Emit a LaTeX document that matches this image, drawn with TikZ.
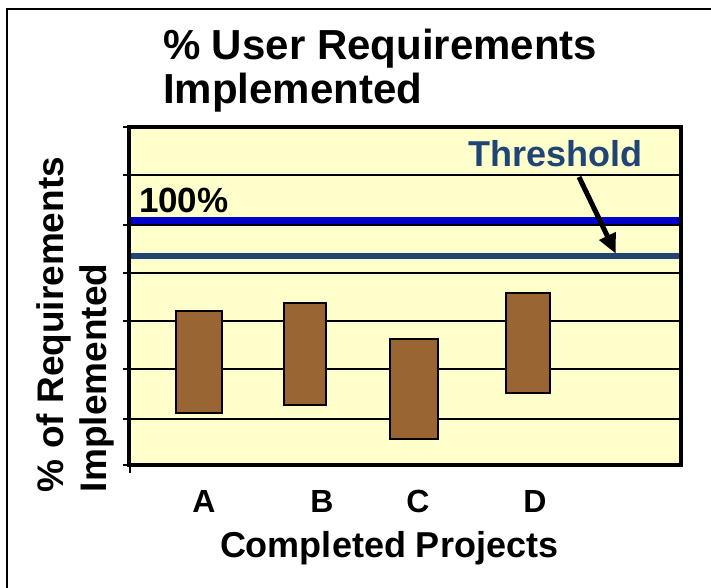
\documentclass[tikz,border=0pt]{standalone}
\usepackage{fontspec}
\setmainfont{Liberation Sans}
\usetikzlibrary{arrows.meta}
\definecolor{plotbg}{HTML}{FFFFCC}
\definecolor{barfill}{HTML}{996633}
\definecolor{hundblue}{HTML}{0000CC}
\definecolor{thrblue}{HTML}{1F4577}
\tikzset{
  txt/.style={inner sep=0pt, outer sep=0pt, font=\bfseries},
  grid line/.style={line width=1.6pt, black},
  tickmark/.style={line width=1.6pt, black},
  bar/.style={draw=black, line width=2pt, fill=barfill},
  level line/.style={line width=7pt},
}
\begin{document}
\begin{tikzpicture}[x=1pt,y=-1pt]
\useasboundingbox (0,0) rectangle (711,588);
% outer frame (top and left only)
\draw[line width=2.5pt] (7,588) -- (7,9) -- (711,9);
% title
\node[txt, anchor=base west, font=\bfseries\fontsize{42}{50}\selectfont] (t1) at (163,60) {\% User Requirements};
\node[txt, anchor=base west, font=\bfseries\fontsize{42}{50}\selectfont] (t2) at (163,104) {Implemented};
% plot area
\fill[plotbg] (129,127) rectangle (681,465);
\foreach \yy in {175,225,273,321,369,419} {
  \draw[grid line] (129,\yy) -- (681,\yy);
}
\foreach \yy in {127,175,225,273,321,369,419,465} {
  \draw[tickmark] (123,\yy) -- (129,\yy);
}
\draw[tickmark] (130,465) -- (130,473);
% level lines
\draw[level line, hundblue] (129,220) -- (681,220);
\draw[level line, thrblue, line width=6.5pt] (129,256) -- (681,256);
% bars
\node[bar, inner sep=0pt, minimum width=46pt, minimum height=102pt] (barA) at (199,362) {};
\node[bar, inner sep=0pt, minimum width=42pt, minimum height=102pt] (barB) at (305,354) {};
\node[bar, inner sep=0pt, minimum width=48pt, minimum height=100pt] (barC) at (414,389) {};
\node[bar, inner sep=0pt, minimum width=44pt, minimum height=100pt] (barD) at (528,343) {};
% plot border
\draw[line width=3.5pt] (129,127) rectangle (681,465);
% labels in plot
\node[txt, anchor=base west, font=\bfseries\fontsize{35}{42}\selectfont] (hund) at (139,212) {100\%};
\node[txt, anchor=base west, text=thrblue, font=\bfseries\fontsize{36}{43}\selectfont] (thr) at (468,167) {Threshold};
\coordinate (arrS) at (579,177);
\coordinate (arrE) at (616,254);
\draw[line width=5pt, -{Triangle[length=20pt,width=17pt]}] (arrS) -- (arrE);
% x labels
\node[txt, anchor=base, font=\bfseries\fontsize{32}{38}\selectfont] (lA) at (204,512) {A};
\node[txt, anchor=base, font=\bfseries\fontsize{32}{38}\selectfont] (lB) at (322,512) {B};
\node[txt, anchor=base, font=\bfseries\fontsize{32}{38}\selectfont] (lC) at (418,512) {C};
\node[txt, anchor=base, font=\bfseries\fontsize{32}{38}\selectfont] (lD) at (535,512) {D};
\node[txt, anchor=base west, font=\bfseries\fontsize{36}{43}\selectfont] (xlab) at (220,557) {Completed Projects};
% y label
\node[txt, anchor=base west, rotate=90, font=\bfseries\fontsize{37}{44}\selectfont] (yl1) at (63,492) {\% of Requirements};
\node[txt, anchor=base west, rotate=90, font=\bfseries\fontsize{37}{44}\selectfont] (yl2) at (106,492) {Implemented};
\end{tikzpicture}
\end{document}
